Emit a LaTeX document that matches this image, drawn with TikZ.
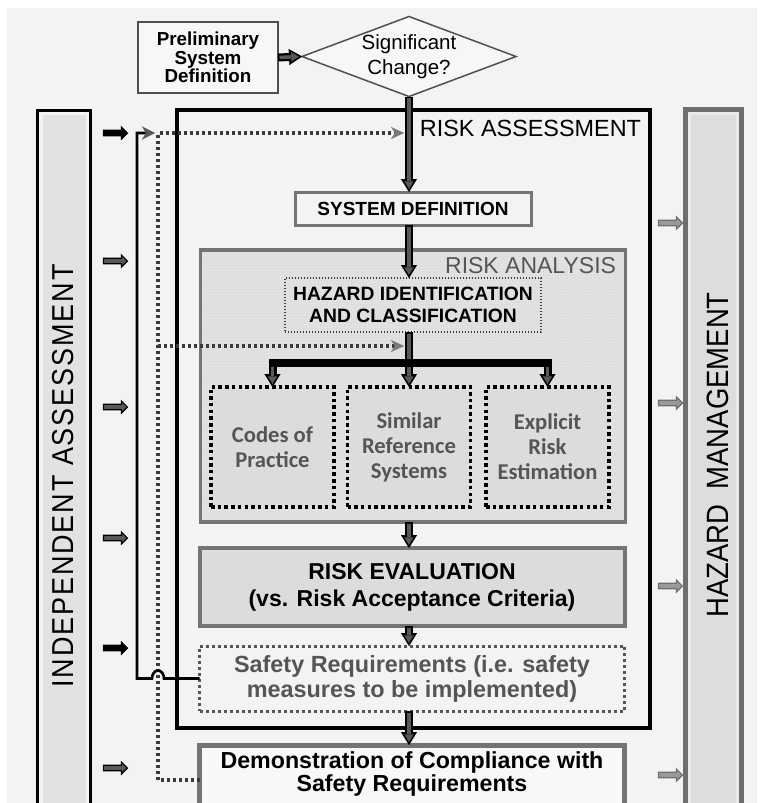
\documentclass[tikz,border=0pt]{standalone}
\usepackage{fontspec}
\setmainfont{Liberation Sans}
\newfontfamily\calfont{Carlito}
\newfontfamily\rotfont{Liberation Sans}[LetterSpace=7]
\newfontfamily\rotplain{Liberation Sans}
\usetikzlibrary{arrows.meta,shapes.geometric,shapes.arrows,patterns}
\definecolor{bgc}{HTML}{F3F3F3}
\definecolor{lcol}{HTML}{E2E2E2}
\definecolor{rcol}{HTML}{DDDDDD}
\definecolor{rring}{HTML}{EBEBEB}
\definecolor{rbord}{HTML}{6E6E6E}
\definecolor{boxgray}{HTML}{DCDCDC}
\definecolor{bordgray}{HTML}{747474}
\definecolor{txtgray}{HTML}{555555}
\definecolor{arrgray}{HTML}{585858}
\definecolor{dotgray}{HTML}{3A3A3A}
\definecolor{tipgray}{HTML}{7A7A7A}
\definecolor{rarrfill}{HTML}{9A9A9A}
\definecolor{thinbord}{HTML}{505050}
\definecolor{paleface}{HTML}{F7F7F7}
\definecolor{ranfill}{HTML}{E2E2E2}
\definecolor{randots}{HTML}{C8C8C8}
\definecolor{hazbord}{HTML}{3C3C3C}
\definecolor{demofill}{HTML}{F8F8F8}
\newcommand\fsz[2]{\fontsize{#1}{#2}\selectfont}
\newcommand\blockarr[2]{%
 \draw[line width=8pt,black,-{Triangle[length=13pt,width=16pt,line width=0.1pt]}] #1 -- #2;
 \draw[line width=3.5pt,arrgray,shorten >=3.2pt,shorten <=1.5pt,-{Triangle[length=7.5pt,width=9pt,line width=0.1pt]}] #1 -- #2;}
\begin{document}
\begin{tikzpicture}[x=1pt,y=-1pt,
  every node/.style={inner sep=0pt, outer sep=0pt, align=center},
  larr/.style={shape=single arrow, draw=black, line width=1.2pt, minimum height=24pt, minimum width=11pt, single arrow head extend=3.2pt, inner xsep=0pt, inner ysep=2.2pt},
  rarr/.style={larr, draw=rbord, fill=rarrfill},
  dotline/.style={draw=dotgray, line width=3.2pt, dash pattern=on 3pt off 3pt},
  tech/.style={draw=black, line width=3.5pt, dash pattern=on 3.5pt off 3.2pt, fill=boxgray, minimum width=123pt, minimum height=120pt, font=\calfont\bfseries\fsz{22.6}{25}, text=txtgray},
  widebox/.style={minimum width=425pt}]
\useasboundingbox (0,0) rectangle (764,803);
\fill[white] (0,0) rectangle (764,803);
\fill[bgc] (7,8) rectangle (757,803);

% independent assessment column
\node[draw=black, line width=3pt, fill=bgc, minimum width=53pt, minimum height=700pt, anchor=north] (iacol) at (64,110) {};
\fill[lcol] (42.5,115) rectangle (85.5,810);
\node[rotate=90, font=\rotfont\fsz{27}{30}] (iatext) at (63,476) {\scalebox{1}[1.12]{INDEPENDENT ASSESSMENT}};

% hazard management column
\node[draw=rbord, line width=5pt, fill=rring, minimum width=56pt, minimum height=703pt, anchor=north] (hmcol) at (713.5,109.5) {};
\fill[rcol] (691,115) rectangle (736,810);
\node[rotate=90, font=\rotplain\fsz{27.5}{30}] (hmtext) at (718,455) {\scalebox{1}[1.12]{HAZARD\ \ MANAGEMENT}};

% risk assessment frame
\node[draw=black, line width=4pt, minimum width=473pt, minimum height=618pt, anchor=north west] (rafr) at (177,110) {};
\node[font=\fsz{23.4}{26}, anchor=east] (ratext) at (641,128.5) {RISK ASSESSMENT};

% top
\node[draw=thinbord, line width=1.5pt, fill=paleface, minimum width=140pt, minimum height=71pt, font=\bfseries\fsz{18.8}{18.3}] (prelim) at (208,57.5) {Preliminary\\System\\Definition};
\node[shape=diamond, draw=thinbord, line width=1.5pt, fill=paleface, minimum width=214pt, minimum height=80pt] (sig) at (409,56.5) {};
\node[font=\fsz{20.5}{25}] (sigtext) at (409,57) {Significant\\Change?};

\node[draw=bordgray, line width=3pt, fill=bgc, minimum width=236pt, minimum height=33pt, font=\bfseries\fsz{19}{20}] (sysdef) at (413,208.5) {SYSTEM DEFINITION};

% risk analysis
\node[draw=bordgray, line width=3.5pt, preaction={fill=ranfill}, pattern=dots, pattern color=randots, widebox, minimum height=272pt] (ran) at (413,386) {};
\node[font=\fsz{23}{24}, text=txtgray, anchor=east] (rantext) at (616,265.5) {RISK ANALYSIS};
\node[draw=hazbord, line width=1.3pt, dash pattern=on 1.3pt off 1.7pt, minimum width=256pt, minimum height=54pt, font=\bfseries\fsz{19.3}{22}] (hazid) at (413,305) {HAZARD IDENTIFICATION\\AND CLASSIFICATION};
\node[tech] (codes) at (272.5,447) {Codes of\\Practice};
\node[tech] (similar) at (409,447) {Similar\\Reference\\Systems};
\node[tech] (explicit) at (547.5,447) {Explicit\\Risk\\Estimation};

% evaluation, requirements, demonstration
\node[draw=bordgray, line width=4pt, fill=boxgray, widebox, minimum height=78pt, font=\bfseries\fsz{23}{27}] (reval) at (412,587) {RISK EVALUATION\\(vs. Risk Acceptance Criteria)};
\node[draw=txtgray, line width=3pt, dash pattern=on 3pt off 3pt, fill=bgc, widebox, minimum height=65pt, text=txtgray, font=\bfseries\fsz{23.4}{25}] (safety) at (412,678.5) {Safety Requirements (i.e. safety\\measures to be implemented)};
\node[draw=bordgray, line width=5pt, fill=demofill, widebox, minimum height=70pt] (demo) at (412,780) {};
\node[font=\bfseries\fsz{23.2}{23}] (demotext) at (412,773.5) {Demonstration of Compliance with\\Safety Requirements};

% main flow arrows
\coordinate (barc) at (409,363);
\blockarr{(prelim.east)}{(sig.west)}
\blockarr{(sig.south)}{(sig.south |- sysdef.north)}
\blockarr{(sig.south |- sysdef.south)}{(sig.south |- hazid.north)}
\blockarr{(sig.south |- hazid.south)}{(sig.south |- similar.north)}
\blockarr{(codes.north |- barc)}{(codes.north)}
\blockarr{(explicit.north |- barc)}{(explicit.north)}
\draw[line width=8pt, line cap=rect] (codes.north |- barc) -- (explicit.north |- barc);
\blockarr{(sig.south |- ran.south)}{(sig.south |- reval.north)}
\blockarr{(sig.south |- reval.south)}{(sig.south |- safety.north)}
\blockarr{(sig.south |- safety.south)}{(sig.south |- demo.north)}

% dotted links
\coordinate (dA) at (158,133);
\coordinate (dB) at (158,346);
\coordinate (tA) at (404,133);
\coordinate (tB) at (404,346);
\draw[dotline, -{Stealth[length=13pt,width=12pt,inset=4pt,color=tipgray,line width=0.1pt]}] (demo.west) -| (dA) -- (tA);
\draw[dotline, -{Stealth[length=13pt,width=12pt,inset=4pt,color=tipgray,line width=0.1pt]}] (dB) -- (tB);

% feedback line with hop
\coordinate (fbx) at (137,0);
\coordinate (hop) at (164,0);
\coordinate (fbtip) at (155,133);
\draw[line width=2.6pt, -{Stealth[length=13pt,width=13pt,inset=4pt,color=arrgray,line width=0.1pt]}] (safety.west) -- (safety.west -| hop) arc[start angle=0, end angle=-180, x radius=6, y radius=8] -- (safety.west -| fbx) -- (fbx |- fbtip) -- (fbtip);

% small side arrows
\node[larr, fill=black] (la1) at (114,133) {};
\node[larr, fill=arrgray] (la2) at (114,261) {};
\node[larr, fill=arrgray] (la3) at (114,407) {};
\node[larr, fill=arrgray] (la4) at (114,538) {};
\node[larr, fill=black] (la5) at (114,648) {};
\node[larr, fill=arrgray] (la6) at (114,768) {};
\node[rarr] (ra1) at (669,223) {};
\node[rarr] (ra2) at (669,403) {};
\node[rarr] (ra3) at (669,586) {};
\node[rarr] (ra4) at (669,775) {};
\end{tikzpicture}
\end{document}
